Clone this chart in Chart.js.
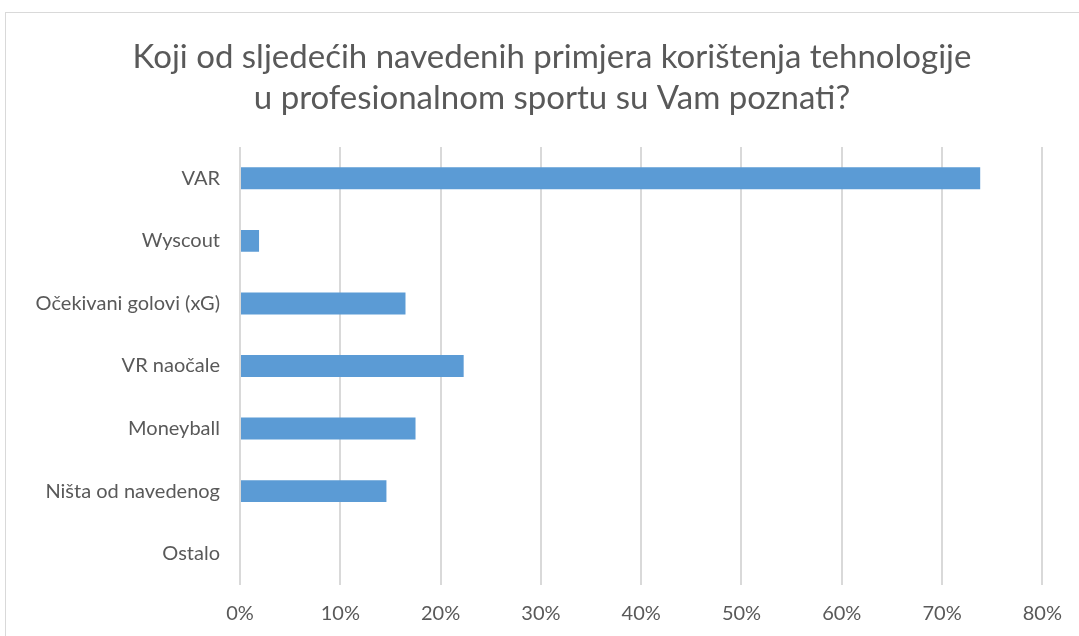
<!DOCTYPE html>
<html>
<head>
<meta charset="utf-8">
<script src="https://cdn.jsdelivr.net/npm/chart.js@4/dist/chart.umd.min.js"></script>
<style>
	html, body { margin: 0; padding: 0; background: #fff; }
	#frame { position: absolute; left: 5px; top: 12px; width: 1200px; height: 700px;
	         border-top: 1px solid #d9d9d9; border-left: 1px solid #d9d9d9; }
	#wrap { position: absolute; left: 0; top: 0; width: 1079px; height: 636px; }
</style>
</head>
<body>
<div id="frame"></div>
<div id="wrap"><canvas id="tech-sport"></canvas></div>
<script>
// Categories and values (share of respondents, %)
var categories = ['VAR', 'Wyscout', 'Očekivani golovi (xG)', 'VR naočale', 'Moneyball', 'Ništa od navedenog', 'Ostalo'];
var values = [73.8, 1.9, 16.5, 22.3, 17.5, 14.6, 0];
var xTicks = [0, 10, 20, 30, 40, 50, 60, 70, 80];
var chartTitle = ['Koji od sljedećih navedenih primjera korištenja tehnologije', 'u profesionalnom sportu su Vam poznati?'];

var textColor = '#595959';
var gridColor = '#d9d9d9';

// Title drawn by hand so it can be centred on the outer frame, not the padded box
var frameTitle = {
	id: 'frameTitle',
	afterDraw: function(chart) {
		var c = chart.ctx;
		c.save();
		c.fillStyle = textColor;
		c.font = '33px Lato';
		c.textAlign = 'center';
		c.textBaseline = 'middle';
		c.fillText(chartTitle[0], 552, 57);
		c.fillText(chartTitle[1], 552, 98);
		c.restore();
	}
};

var ctx = document.getElementById('tech-sport');
var cfg = {
	type: 'bar',
	data: {
		labels: categories,
		datasets: [{
			label: 'Odgovori',
			backgroundColor: '#5b9bd5',
			borderWidth: 0,
			barPercentage: 0.7,
			categoryPercentage: 0.5,
			data: values
		}]
	},
	options: {
		indexAxis: 'y',
		responsive: true,
		maintainAspectRatio: false,
		animation: false,
		layout: { padding: { top: 147, right: 24, bottom: 0, left: 0 } },
		plugins: {
			legend: { display: false },
			tooltip: { enabled: false },
			title: { display: false }
		},
		scales: {
			x: {
				min: 0,
				max: 80,
				afterBuildTicks: function(s) { s.ticks = xTicks.map(function(v) { return { value: v }; }); },
				afterFit: function(s) { s.height = 51; },
				border: { display: false },
				grid: { color: gridColor, lineWidth: 2, drawTicks: false },
				ticks: {
					color: textColor,
					padding: 17,
					font: { family: 'Lato', size: 20 },
					callback: function(v) { return v + '%'; }
				}
			},
			y: {
				afterFit: function(s) { s.width = 240; },
				border: { display: false },
				grid: { display: false },
				ticks: {
					color: textColor,
					padding: 12,
					font: { family: 'Lato', size: 20 }
				}
			}
		}
	},
	plugins: [frameTitle]
};
new Chart(ctx, cfg);
</script>
</body>
</html>
